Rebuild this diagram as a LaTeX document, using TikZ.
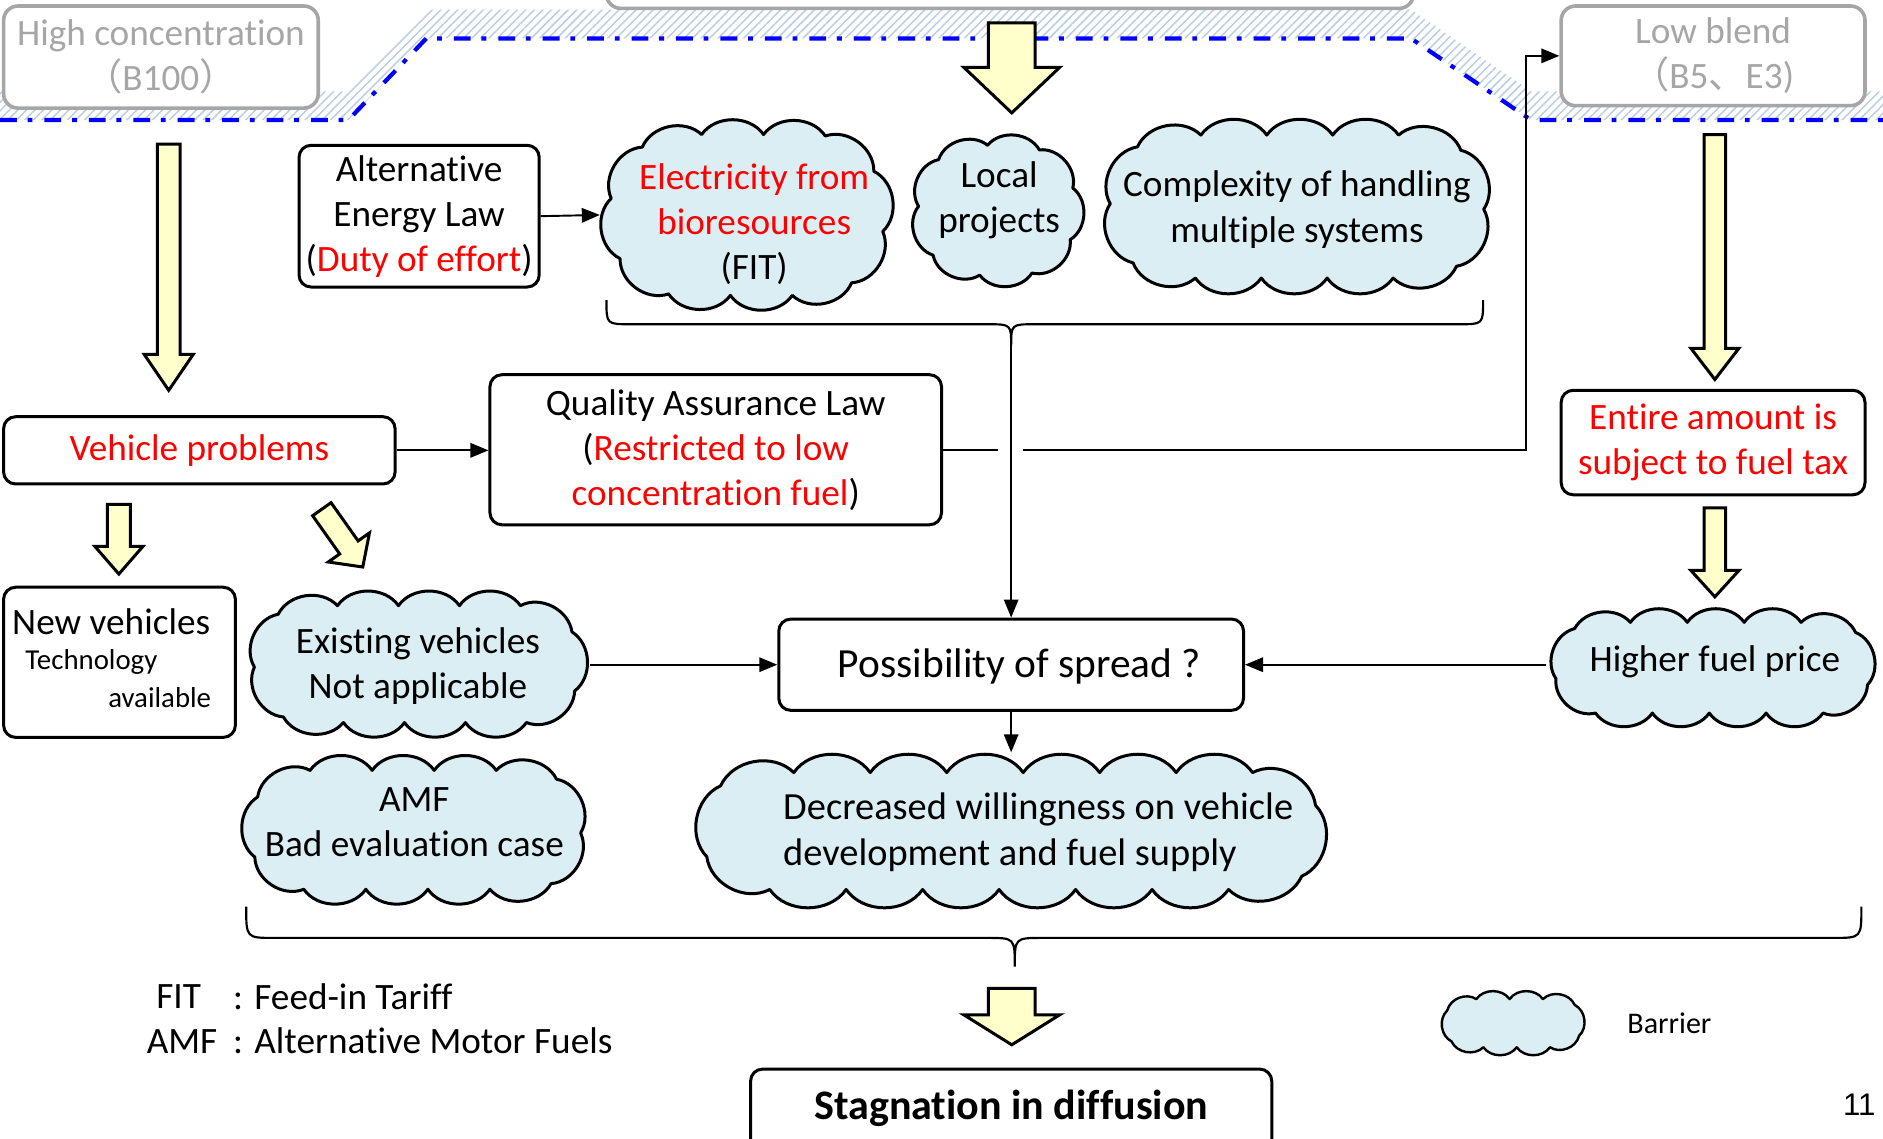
\documentclass[tikz,border=0pt]{standalone}
\usepackage{fontspec}
\setmainfont{Carlito}[Ligatures=NoCommon]
\newfontfamily\cjkf{Noto Sans CJK JP}
\newfontfamily\arialf{Liberation Sans}
\usetikzlibrary{arrows.meta,patterns.meta}
\definecolor{cloudblue}{RGB}{219,238,244}
\definecolor{yarrowc}{RGB}{255,255,204}
\definecolor{graybox}{RGB}{166,166,166}
\definecolor{hatchblue}{RGB}{184,204,228}
\definecolor{dashblue}{RGB}{0,0,255}
\newcommand\fmain{\fontsize{31}{37.5}\selectfont}
\newcommand\fsmall{\fontsize{24}{29}\selectfont}
\newcommand\yblockarrow[6]{\draw[yarr] (#1-#5,#2) -- (#1+#5,#2) -- (#1+#5,#3) -- (#1+#6,#3) -- (#1,#4) -- (#1-#6,#3) -- (#1-#5,#3) -- cycle;}
% point on a rounded rectangle at arc length \CcS
\newcommand\cloudpoint{%
 \ifdim\CcS pt<\CcLa pt
  \pgfmathsetmacro\CcPx{\CcXa+\CcR+\CcS}\pgfmathsetmacro\CcPy{\CcYa}%
 \else\pgfmathsetmacro\CcS{\CcS-\CcLa}%
 \ifdim\CcS pt<\CcAq pt
  \pgfmathsetmacro\CcPh{deg(\CcS/\CcR)}%
  \pgfmathsetmacro\CcPx{\CcXa+\CcW-\CcR+\CcR*sin(\CcPh)}\pgfmathsetmacro\CcPy{\CcYa+\CcR-\CcR*cos(\CcPh)}%
 \else\pgfmathsetmacro\CcS{\CcS-\CcAq}%
 \ifdim\CcS pt<\CcLb pt
  \pgfmathsetmacro\CcPx{\CcXa+\CcW}\pgfmathsetmacro\CcPy{\CcYa+\CcR+\CcS}%
 \else\pgfmathsetmacro\CcS{\CcS-\CcLb}%
 \ifdim\CcS pt<\CcAq pt
  \pgfmathsetmacro\CcPh{deg(\CcS/\CcR)}%
  \pgfmathsetmacro\CcPx{\CcXa+\CcW-\CcR+\CcR*cos(\CcPh)}\pgfmathsetmacro\CcPy{\CcYa+\CcH-\CcR+\CcR*sin(\CcPh)}%
 \else\pgfmathsetmacro\CcS{\CcS-\CcAq}%
 \ifdim\CcS pt<\CcLa pt
  \pgfmathsetmacro\CcPx{\CcXa+\CcW-\CcR-\CcS}\pgfmathsetmacro\CcPy{\CcYa+\CcH}%
 \else\pgfmathsetmacro\CcS{\CcS-\CcLa}%
 \ifdim\CcS pt<\CcAq pt
  \pgfmathsetmacro\CcPh{deg(\CcS/\CcR)}%
  \pgfmathsetmacro\CcPx{\CcXa+\CcR-\CcR*sin(\CcPh)}\pgfmathsetmacro\CcPy{\CcYa+\CcH-\CcR+\CcR*cos(\CcPh)}%
 \else\pgfmathsetmacro\CcS{\CcS-\CcAq}%
 \ifdim\CcS pt<\CcLb pt
  \pgfmathsetmacro\CcPx{\CcXa}\pgfmathsetmacro\CcPy{\CcYa+\CcH-\CcR-\CcS}%
 \else\pgfmathsetmacro\CcS{\CcS-\CcLb}%
  \pgfmathsetmacro\CcPh{deg(\CcS/\CcR)}%
  \pgfmathsetmacro\CcPx{\CcXa+\CcR-\CcR*cos(\CcPh)}\pgfmathsetmacro\CcPy{\CcYa+\CcR-\CcR*sin(\CcPh)}%
 \fi\fi\fi\fi\fi\fi\fi}
% cloud: #1 cx, #2 cy, #3 outer W, #4 outer H, #5 puffs, #6 offset, #7 extra style
\newcommand\mkcloud[7]{%
 \pgfmathsetmacro\CcPo{2*(#3)+2*(#4)-1.717*0.45*(#4)}%
 \pgfmathsetmacro\CcSag{0.16*\CcPo/#5}%
 \pgfmathsetmacro\CcW{#3-2*\CcSag}%
 \pgfmathsetmacro\CcH{#4-2*\CcSag}%
 \pgfmathsetmacro\CcR{0.45*\CcH}%
 \pgfmathsetmacro\CcXa{#1-\CcW/2}%
 \pgfmathsetmacro\CcYa{#2-\CcH/2}%
 \pgfmathsetmacro\CcLa{\CcW-2*\CcR}%
 \pgfmathsetmacro\CcLb{\CcH-2*\CcR}%
 \pgfmathsetmacro\CcAq{pi*\CcR/2}%
 \pgfmathsetmacro\CcP{2*\CcLa+2*\CcLb+4*\CcAq}%
 \pgfmathsetmacro\CcC{\CcP/#5}%
 \foreach \i in {0,...,#5}{%
  \pgfmathsetmacro\CcS{mod((\i+#6)*\CcC,\CcP)}%
  \cloudpoint
  \coordinate (C\i) at (\CcPx,\CcPy);
 }%
 \filldraw[cloudsty,#7] (C0) \foreach \i in {1,...,#5}{ to[bend left=55] (C\i) } -- cycle;
}
\begin{document}
\begin{tikzpicture}[x=1pt,y=-1pt,
 box/.style={draw, line width=2.5pt, rounded corners=10pt, fill=white, align=center, font=\fmain, inner sep=0pt},
 gbox/.style={draw=graybox, line width=3pt, rounded corners=12pt, fill=white, align=center, font=\fmain, text=graybox, inner sep=0pt},
 cloudsty/.style={draw, fill=cloudblue, line width=2.5pt, line join=round},
 anch/.style={inner sep=0pt, outer sep=0pt},
 txt/.style={font=\fmain, align=center, inner sep=0pt},
 conn/.style={line width=1.6pt, -{Triangle[length=15pt,width=12pt]}},
 plain/.style={line width=1.8pt},
 yarr/.style={draw, fill=yarrowc, line width=2.5pt, line join=miter},
 ]
\useasboundingbox (0,0) rectangle (1568,948);
\clip (0,0) rectangle (1568,948);
% hatched band and dash-dot border
\fill[pattern={Lines[angle=45,distance=5pt,line width=1.2pt]}, pattern color=hatchblue]
 (0,100) -- (290,100) -- (355,32) -- (1175,32) -- (1275,100) -- (1568,100) -- (1568,76) -- (1275,76) -- (1175,8) -- (355,8) -- (290,76) -- (0,76) -- cycle;
\draw[dashblue, line width=3.5pt, dash pattern=on 14pt off 9pt on 4pt off 10pt]
 (0,100) -- (290,100) -- (355,32) -- (1175,32) -- (1275,100) -- (1568,100);
% gray boxes
\node[gbox, minimum width=262pt, minimum height=85pt] (high) at (134,47.5) {High concentration\\{\cjkf （}B100{\cjkf ）}};
\node[gbox, minimum width=672pt, minimum height=60pt] (topmid) at (841,-23) {};
\node[gbox, minimum width=253pt, minimum height=83pt] (low) at (1426.5,46.5) {Low blend\\{\cjkf （}B5{\cjkf 、}E3)};
% block arrows
\yblockarrow{140.5}{120}{295}{325}{9.5}{20.5}
\yblockarrow{842.5}{19}{56}{94}{19.5}{40}
\yblockarrow{1428}{112}{290}{316}{9}{20}
\yblockarrow{99}{420}{455}{478}{9.5}{20}
\yblockarrow{1428}{423}{475}{497}{9}{20}
\yblockarrow{842.5}{823}{845}{870}{19.5}{40}
\begin{scope}[rotate around={35.3:(268,424)}]
\yblockarrow{268}{424}{463}{483}{9.4}{21}
\end{scope}
% boxes
\node[box, minimum width=200pt, minimum height=118pt] (alt) at (349,180) {Alternative\\Energy Law\\(\textcolor{red}{Duty of effort})};
\node[box, minimum width=326pt, minimum height=56pt, text=red] (veh) at (166,375) {\raisebox{-2pt}{Vehicle problems}};
\node[box, minimum width=376pt, minimum height=125pt] (qal) at (596,374.5) {Quality Assurance Law\\(\textcolor{red}{Restricted to low}\\\textcolor{red}{concentration fuel})};
\node[box, minimum width=253pt, minimum height=87pt, text=red] (ent) at (1426.5,368.5) {Entire amount is\\subject to fuel tax};
\node[box, minimum width=193pt, minimum height=125pt] (newv) at (99.5,551.5) {};
\node[txt, anchor=west] (newv1) at (10,518) {New vehicles};
\node[txt, font=\fsmall, anchor=west] (newv2) at (21,551) {Technology};
\node[txt, font=\fsmall, anchor=east] (newv3) at (176,581) {available};
\node[box, minimum width=387pt, minimum height=76pt] (poss) at (842,553.5) {};
\node[txt, font=\fontsize{34.5}{42}\selectfont] (tposs) at (849,555) {Possibility of spread ?};
\node[box, text height=42pt, text depth=40pt, minimum width=434pt, font=\fontsize{35}{42}\selectfont\bfseries, anchor=north] (stag) at (842,889) {Stagnation in diffusion};
% clouds
\mkcloud{622}{179}{245}{152}{12}{0.3}{}
\node[anch, minimum width=245pt, minimum height=152pt] (celec) at (622,179) {};
\node[txt] (telec) at (628,187) {\textcolor{red}{Electricity from}\\\textcolor{red}{bioresources}\\(FIT)};
\mkcloud{830}{175}{146}{124}{9}{0.2}{}
\node[anch, minimum width=146pt, minimum height=124pt] (cloc) at (830,175) {};
\node[txt] (tloc) at (832,167) {Local\\projects};
\mkcloud{1080}{172}{330}{138}{14}{0.4}{}
\node[anch, minimum width=330pt, minimum height=138pt] (ccomp) at (1080,172) {};
\node[txt] (tcomp) at (1080,174.5) {Complexity of handling\\multiple systems};
\mkcloud{347}{553}{288}{115}{13}{0.5}{}
\node[anch, minimum width=288pt, minimum height=115pt] (cexi) at (347,553.5) {};
\node[txt] (texi) at (348,555) {Existing vehicles\\Not applicable};
\mkcloud{346}{691}{293}{117}{13}{0.1}{}
\node[anch, minimum width=293pt, minimum height=117pt] (camf) at (346,691) {};
\node[txt] (tamf) at (345,685) {AMF\\Bad evaluation case};
\mkcloud{1426}{556}{278}{92}{13}{0.6}{}
\node[anch, minimum width=278pt, minimum height=92pt] (chigh) at (1426,553.5) {};
\node[txt] (thigh) at (1428,551) {Higher fuel price};
\mkcloud{842}{692}{535}{119}{18}{0.5}{}
\node[anch, minimum width=535pt, minimum height=119pt] (cdec) at (842,692) {};
\node[txt, align=left, anchor=west, font=\fontsize{32}{38}\selectfont] (tdec) at (652,693) {Decreased willingness on vehicle\\development and fuel supply};
\mkcloud{1260}{852}{124}{50}{10}{0.3}{line width=2pt}
\node[anch, minimum width=124pt, minimum height=50pt] (cleg) at (1260,852) {};
\node[txt, font=\fontsize{25}{30}\selectfont, anchor=west] (tleg) at (1355,852) {Barrier};
% legend text
\node[txt, anchor=west] (fit1) at (130,830) {FIT};
\node[txt, anchor=west] (fit2) at (194,830) {: Feed-in Tariff};
\node[txt, anchor=west] (amf1) at (122,867) {AMF};
\node[txt, anchor=west] (amf2) at (194,867) {: Alternative Motor Fuels};
\node[txt, font=\arialf\fontsize{26}{30}\selectfont, anchor=east] (pg) at (1562,920) {11};
% braces
\coordinate (b1tip) at (842,288);
\draw[plain] (505,250) .. controls (505,270) .. (525,270) -- (822,270) .. controls (842,270) .. (b1tip) .. controls (842,270) .. (862,270) -- (1215,270) .. controls (1235,270) .. (1235,250);
\coordinate (b2tip) at (845,805);
\draw[plain] (205,755) .. controls (205,781) .. (228,781) -- (822,781) .. controls (845,781) .. (b2tip) .. controls (845,781) .. (868,781) -- (1527,781) .. controls (1550,781) .. (1550,755);
% connectors
\draw[conn] (b1tip) -- (poss.north);
\draw[conn] (alt.east) -- (celec.west);
\draw[conn] (veh.east) -- (qal.west |- veh.east);
\coordinate (jl) at (831,375);
\coordinate (jr) at (852,375);
\coordinate (turn) at (1271,375);
\draw[plain, line width=1.6pt] (qal.east |- jl) -- (jl);
\draw[conn] (jr) -- (turn) |- (low.west);
\draw[conn] (cexi.east) -- (poss.west);
\draw[conn] (chigh.west) -- (poss.east);
\draw[conn] (poss.south) -- ([yshift=6pt]cdec.north);
\end{tikzpicture}
\end{document}
